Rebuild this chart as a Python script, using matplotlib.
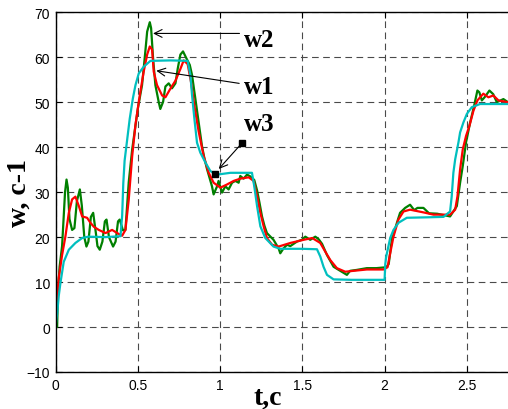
import numpy as np
import matplotlib
matplotlib.use("Agg")
import matplotlib.pyplot as plt

# w3 (cyan)
t_w3 = [0, 0.01, 0.02, 0.03, 0.05, 0.081, 0.121, 0.162, 0.2, 0.3, 0.395, 0.405, 0.412, 0.42,
        0.431, 0.451, 0.47, 0.486, 0.506, 0.536, 0.577, 0.7, 0.803, 0.82, 0.83, 0.845, 0.86,
        0.88, 0.911, 0.941, 0.982, 1.063, 1.194, 1.208, 1.225, 1.245, 1.275, 1.325, 1.366,
        1.5, 1.589, 1.609, 1.629, 1.65, 1.69, 1.8, 2.0, 2.004, 2.01, 2.034, 2.054, 2.085,
        2.135, 2.257, 2.358, 2.398, 2.408, 2.418, 2.429, 2.449, 2.459, 2.479, 2.5, 2.53,
        2.58, 2.75]
w3 = [0, 3, 7, 9.8, 14.5, 17.2, 18.7, 19.8, 20.1, 20, 20.2, 24.7, 32, 37,
      40.3, 46.3, 50.8, 53.8, 56.4, 57.9, 59.2, 59.3, 59.2, 56, 51.5, 46, 41,
      38.8, 36.6, 34.7, 33.9, 34.3, 34.3, 31.3, 26.9, 22.4, 19.8, 17.9, 17.4,
      17.4, 17.3, 15.7, 13.4, 11.6, 10.6, 10.5, 10.5, 14, 15.7, 19.8, 21.6, 23.2,
      24.3, 24.4, 24.5, 25.7, 29.1, 34.3, 37.3, 41.1, 43.3, 45.5, 47.4, 48.9,
      49.6, 49.6]

# w1 (red)
t_w1 = [0, 0.008, 0.02, 0.04, 0.06, 0.081, 0.101, 0.121, 0.142, 0.162, 0.192, 0.212, 0.233,
        0.263, 0.304, 0.344, 0.375, 0.405, 0.425, 0.445, 0.466, 0.486, 0.512, 0.536, 0.557,
        0.573, 0.587, 0.597, 0.617, 0.648, 0.668, 0.698, 0.729, 0.759, 0.779, 0.803, 0.824,
        0.844, 0.87, 0.9, 0.931, 0.961, 1.002, 1.042, 1.083, 1.123, 1.174, 1.204, 1.225,
        1.245, 1.265, 1.285, 1.316, 1.356, 1.427, 1.508, 1.56, 1.609, 1.639, 1.67, 1.71,
        1.761, 1.811, 1.892, 1.993, 2.018, 2.034, 2.054, 2.084, 2.115, 2.155, 2.236, 2.297,
        2.398, 2.429, 2.443, 2.459, 2.475, 2.495, 2.516, 2.54, 2.564, 2.6, 2.631, 2.661,
        2.692, 2.75]
w1 = [3, 6, 11, 16, 20.1, 25.4, 28.4, 29, 26.9, 24.6, 24.3, 23.2, 22.3,
      21.6, 20.9, 21.6, 20.9, 20.3, 21.6, 28.3, 38, 45, 51.5, 56.8, 60.6,
      62.4, 61.7, 56.8, 53.8, 51.5, 51.1, 53, 54.8, 57.4, 59.3, 58.5, 54.4,
      49.2, 43.5, 38.1, 34.3, 32.1, 31, 31.7, 32.5, 33, 33.3, 32.5, 29.1,
      25.4, 22.4, 19.8, 18.3, 17.9, 18.7, 19.4, 19.8, 18.7, 16.8, 14.9, 13.1,
      12.3, 12.5, 12.8, 12.8, 13.3, 16.4, 20.1, 23.9, 25.7, 26.1, 25.5, 25,
      25, 26.1, 29.1, 35.1, 39.5, 42.5, 44.8, 48.1, 50.4, 51.9, 51.1, 51.5,
      50.4, 50]

# w2 (green)
t_w2 = [0, 0.01, 0.015, 0.025, 0.04, 0.05, 0.058, 0.067, 0.075, 0.085, 0.101, 0.115, 0.13,
        0.148, 0.16, 0.175, 0.188, 0.2, 0.215, 0.229, 0.245, 0.255, 0.269, 0.285, 0.3, 0.31,
        0.325, 0.35, 0.365, 0.38, 0.39, 0.41, 0.425, 0.445, 0.466, 0.486, 0.5, 0.526, 0.546,
        0.557, 0.573, 0.581, 0.593, 0.607, 0.627, 0.637, 0.654, 0.668, 0.688, 0.708, 0.729,
        0.743, 0.759, 0.775, 0.795, 0.816, 0.83, 0.85, 0.87, 0.89, 0.905, 0.921, 0.951,
        0.961, 0.982, 0.991, 1.012, 1.032, 1.052, 1.073, 1.093, 1.113, 1.123, 1.143, 1.164,
        1.184, 1.208, 1.225, 1.24, 1.255, 1.27, 1.285, 1.325, 1.356, 1.366, 1.386, 1.407,
        1.427, 1.467, 1.498, 1.518, 1.548, 1.579, 1.6, 1.62, 1.65, 1.69, 1.73, 1.771, 1.79,
        1.83, 1.892, 1.95, 2.01, 2.025, 2.044, 2.075, 2.094, 2.125, 2.155, 2.18, 2.2, 2.236,
        2.27, 2.32, 2.398, 2.439, 2.459, 2.475, 2.495, 2.52, 2.544, 2.564, 2.576, 2.591,
        2.61, 2.637, 2.66, 2.682, 2.722, 2.75]
w2 = [0, 0, 8, 13.4, 18, 24.6, 30, 32.8, 31, 24, 21.6, 22, 28,
      30.6, 27, 20, 17.9, 19, 24.5, 25.4, 21, 18, 17.2, 19, 23.5, 23.9,
      20, 17.9, 19, 23.5, 23.9, 21.5, 21.6, 32.2, 39.5, 44.8, 48.5, 53.8, 61.3,
      65.7, 67.8, 66.5, 59.8, 53.8, 50.1, 48.5, 50.1, 53.5, 54.2, 53.1, 54.2,
      57.5, 60.6, 61.3, 59.8, 58.3, 56, 50.8, 45.6, 40.3, 37.5, 35.1, 31.3,
      29.5, 31.3, 32.5, 29.9, 31.3, 30.6, 32.1, 32.5, 32.1, 33.6, 33, 33.9,
      33.5, 32.7, 30.4, 27.6, 24.6, 22.5, 20.9, 19.4, 17.5, 16.4, 17.5, 18.3,
      18, 19, 19.4, 20.1, 19.4, 20.1, 19.5, 18.5, 16, 13.4, 12.5, 11.6, 12.5,
      12.7, 13.1, 13.1, 13.3, 14, 19.4, 23.2, 25.4, 26.5, 27.2, 26, 26.5, 26.5,
      25.3, 25.2, 24.6, 26.9, 32.1, 35.8, 41.1, 45.5, 49.2, 52.6, 52.2, 50.4,
      51.2, 52.6, 51.8, 50, 50.7, 50]

x_ticks = [0, 0.5, 1, 1.5, 2, 2.5]
x_ticklabels = ["0", "0.5", "1", "1.5", "2", "2.5"]
y_ticks = [-10, 0, 10, 20, 30, 40, 50, 60, 70]

serif_bold = dict(family="Liberation Serif", fontweight="bold")

fig = plt.figure(figsize=(5.08, 4.10), dpi=100)
ax = fig.add_axes([55.5 / 508, 1 - 373 / 410, 1 - 55.5 / 508, (373 - 13.3) / 410])

ax.plot(t_w2, w2, color="#008000", lw=1.6)
ax.plot(t_w1, w1, color="#ff0000", lw=1.6)
ax.plot(t_w3, w3, color="#00bfbf", lw=1.6)

ax.set_xlim(0, 2.75)
ax.set_ylim(-10, 70)
ax.set_xticks(x_ticks)
ax.set_xticklabels(x_ticklabels)
ax.set_yticks(y_ticks)
for lab in ax.get_xticklabels() + ax.get_yticklabels():
    lab.set_family("Liberation Sans")
    lab.set_fontsize(10)
ax.tick_params(direction="in", length=4, width=0.8, top=True, pad=4)
ax.spines["right"].set_visible(False)
for s in ["left", "bottom", "top"]:
    ax.spines[s].set_linewidth(1.0)
ax.grid(True, color="#4a4a4a", linestyle=(0, (6, 4)), linewidth=0.8)
ax.set_axisbelow(True)

ax.set_xlabel("t,c", fontsize=20, **serif_bold)
ax.xaxis.set_label_coords(0.47, -0.035)
ax.set_ylabel("w, c-1", fontsize=20, **serif_bold)
ax.yaxis.set_label_coords(-0.053, 0.5)

# labels with arrows
ax.annotate("", xy=(0.576, 65.3), xytext=(1.135, 65.3),
            arrowprops=dict(arrowstyle="->", color="black", lw=0.8, mutation_scale=14))
ax.text(1.147, 64.0, "w2", fontsize=18, va="center", ha="left", **serif_bold)

ax.annotate("", xy=(0.596, 57.1), xytext=(1.133, 54.1),
            arrowprops=dict(arrowstyle="->", color="black", lw=0.8, mutation_scale=14))
ax.text(1.147, 53.4, "w1", fontsize=18, va="center", ha="left", **serif_bold)

ax.annotate("", xy=(0.981, 34.7), xytext=(1.133, 40.9),
            arrowprops=dict(arrowstyle="->", color="black", lw=0.8, mutation_scale=14))
ax.plot([1.133, 0.967], [40.9, 34.0], "s", color="black", markersize=5)
ax.text(1.147, 45.2, "w3", fontsize=18, va="center", ha="left", **serif_bold)

fig.savefig("out.png", dpi=100)
